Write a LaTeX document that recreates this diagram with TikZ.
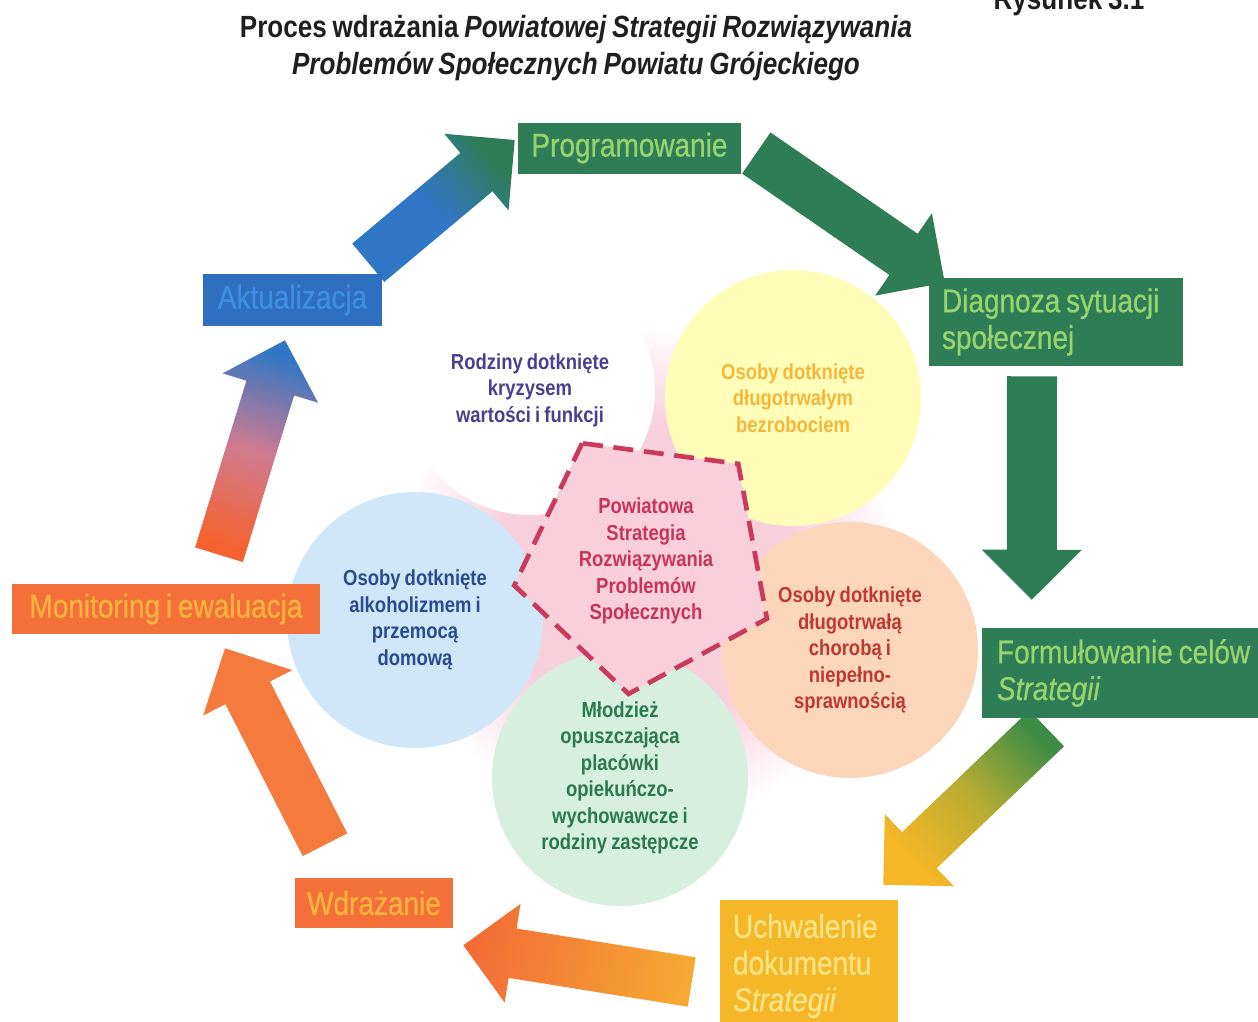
\documentclass[tikz,border=0pt]{standalone}
\usepackage{fontspec}
\setmainfont[FakeStretch=0.85,WordSpace=0.8]{Liberation Sans}
\newfontfamily\stagefont[FakeStretch=0.85,WordSpace=0.75,FakeBold=0.6]{Liberation Sans}
\usetikzlibrary{calc,shapes.geometric,backgrounds}

\definecolor{titlegray}{HTML}{1F1F1F}
\definecolor{stagegreen}{HTML}{2E7D57}
\definecolor{stagegreentext}{HTML}{98D46E}
\definecolor{stageblue}{HTML}{2E6FBF}
\definecolor{stagebluetext}{HTML}{3C90E4}
\definecolor{stageorange}{HTML}{F4703A}
\definecolor{stageorangetext}{HTML}{F8B43C}
\definecolor{stageyellow}{HTML}{F5B727}
\definecolor{stageyellowtext}{HTML}{FDE585}
\definecolor{arrowblue}{HTML}{3077C6}
\definecolor{arrowgreen}{HTML}{3F8C46}
\definecolor{arrowolive}{HTML}{B8AC32}
\definecolor{arroworange}{HTML}{F47A3D}
\definecolor{arrowred}{HTML}{F5622F}
\definecolor{arrowmauve}{HTML}{D07A90}
\definecolor{arrowamber}{HTML}{F5A832}
\definecolor{arrowtomato}{HTML}{F26C36}
\definecolor{fillyellow}{HTML}{FFFDB8}
\definecolor{fillpeach}{HTML}{FCD6BA}
\definecolor{fillgreen}{HTML}{D6EFDF}
\definecolor{fillblue}{HTML}{CFE7F8}
\definecolor{pinkbg}{HTML}{F8D0DC}
\definecolor{pentfill}{HTML}{F9CFDC}
\definecolor{pentline}{HTML}{C93A5D}
\definecolor{textpurple}{HTML}{4B4090}
\definecolor{textyellow}{HTML}{F6B63A}
\definecolor{textblue}{HTML}{2A4B8D}
\definecolor{textred}{HTML}{BC3A31}
\definecolor{textgreen}{HTML}{2B7A4D}
\definecolor{textcrimson}{HTML}{C8345A}

\pgfdeclareradialshading{pinkglow}{\pgfpoint{0bp}{0bp}}{color(0bp)=(pinkbg); color(15bp)=(pinkbg); color(25bp)=(white); color(50bp)=(white)}

\newcommand\blockarrow[3][]{%
  \coordinate (#2-#3) at ($(#3)!37.5pt!(#2)$);
  \path[#1] ($(#2)!18.75pt!90:(#3)$) -- ($(#2-#3)!18.75pt!90:(#3)$) -- ($(#2-#3)!37.5pt!90:(#3)$) -- (#3)
    -- ($(#2-#3)!37.5pt!-90:(#3)$) -- ($(#2-#3)!18.75pt!-90:(#3)$) -- ($(#2)!18.75pt!-90:(#3)$) -- cycle;}

\begin{document}
\begin{tikzpicture}[x=0.75pt,y=-0.75pt,
  stage/.style={rectangle,inner sep=0pt,font=\stagefont\fontsize{24.7}{27.5}\selectfont},
  group/.style={circle,inner sep=0pt,minimum size=192pt,align=center,font=\bfseries\fontsize{16.3}{19.9}\selectfont}]
\useasboundingbox (0,0) rectangle (1258,1022);

\node[font=\bfseries\fontsize{23}{27.75}\selectfont,text=titlegray,align=center] (title) at (576,48)
  {Proces wdrażania \textit{Powiatowej Strategii Rozwiązywania}\\\textit{Problemów Społecznych Powiatu Grójeckiego}};
\node[font=\bfseries\fontsize{23}{27.75}\selectfont,text=titlegray,anchor=base] (fig) at (1069,9) {Rysunek 3.1};

\shade[shading=pinkglow] (646,575) circle (187.5pt);

\node[group,minimum size=187.5pt,fill=white,text=textpurple] (rodziny) at (530,390) {Rodziny dotknięte\\kryzysem\\wartości i funkcji};
\node[group,fill=fillyellow,text=textyellow] (bezrobocie) at (793,398) {Osoby dotknięte\\długotrwałym\\bezrobociem};
\node[group,fill=fillpeach,text=textred] (choroba) at (850,650) {Osoby dotknięte\\długotrwałą\\chorobą i\\niepełno-\\sprawnością};
\node[group,fill=fillblue,text=textblue] (alkohol) at (415,620) {Osoby dotknięte\\alkoholizmem i\\przemocą\\domową};
\node[group,fill=fillgreen,text=textgreen] (mlodziez) at (620,778) {Młodzież\\opuszczająca\\placówki\\opiekuńczo-\\wychowawcze i\\rodziny zastępcze};

\node[regular polygon,regular polygon sides=5,shape border rotate=28.5,minimum size=201pt,inner sep=0pt,
  fill=pentfill,draw=pentline,line width=3.5pt,dash pattern=on 15pt off 8pt,align=center,text=textcrimson,
  font=\bfseries\fontsize{16.3}{19.9}\selectfont] (strategia) at (646,561)
  {Powiatowa\\Strategia\\Rozwiązywania\\Problemów\\Społecznych};

\node[stage,fill=stagegreen,text=stagegreentext,minimum width=167.25pt,minimum height=38.25pt] (prog) at (629.5,148) {Programowanie};
\node[stage,fill=stagegreen,text=stagegreentext,text width=171pt,inner xsep=9.75pt,align=flush left,minimum height=66pt] (diag) at (1056,322) {Diagnoza sytuacji\\społecznej};
\node[stage,fill=stagegreen,text=stagegreentext,text width=197.25pt,inner xsep=11.25pt,align=flush left,minimum height=67.5pt] (form) at (1128.5,673) {Formułowanie celów\\\textit{Strategii}};
\node[stage,fill=stageyellow,text=stageyellowtext,text width=114pt,inner xsep=9.75pt,align=flush left,minimum height=99pt] (uchw) at (809,966) {Uchwalenie\\dokumentu\\\textit{Strategii}};
\node[stage,fill=stageorange,text=stageorangetext,minimum width=118.5pt,minimum height=37.5pt] (wdr) at (374,903) {Wdrażanie};
\node[stage,fill=stageorange,text=stageorangetext,minimum width=231pt,minimum height=37.5pt] (mon) at (166,609) {Monitoring i ewaluacja};
\node[stage,fill=stageblue,text=stagebluetext,minimum width=134.25pt,minimum height=39pt] (akt) at (292.5,300) {Aktualizacja};

\coordinate (aktout) at ($(akt.north east)+(-14,-11)$);
\coordinate (progin) at ($(prog.west)+(-3,-8)$);
\coordinate (progout) at ($(prog.east)+(15,5)$);
\coordinate (diagin) at ($(diag.north west)+(16,5)$);
\coordinate (diagout) at ($(diag.south)+(-24,10)$);
\coordinate (formin) at ($(form.north west)+(50,-28)$);
\coordinate (formout) at ($(form.south west)+(65,10)$);
\coordinate (uchwin) at ($(uchw.north east)+(-15,-15)$);
\coordinate (uchwout) at ($(uchw.west)+(-28,16)$);
\coordinate (wdrin) at ($(wdr.south east)+(10,17)$);
\coordinate (wdrout) at ($(wdr.north)+(-49,-33)$);
\coordinate (monin) at ($(mon.south)+(59,14)$);
\coordinate (monout) at ($(mon.north)+(53,-29)$);
\coordinate (aktin) at ($(akt.south)+(-7.5,14)$);

\begin{scope}[on background layer]
\blockarrow[bottom color=arrowblue,top color=stagegreen,middle color=arrowblue,shading angle=-50.3]{aktout}{progin}
\blockarrow[fill=stagegreen]{progout}{diagin}
\blockarrow[fill=stagegreen]{diagout}{formin}
\blockarrow[bottom color=arrowgreen,top color=stageyellow,middle color=arrowolive,shading angle=133.7]{formout}{uchwin}
\blockarrow[bottom color=arrowamber,top color=arrowtomato,shading angle=80.8]{uchwout}{wdrin}
\blockarrow[fill=arroworange]{wdrout}{monin}
\blockarrow[bottom color=arrowred,top color=arrowblue,middle color=arrowmauve,shading angle=-17]{monout}{aktin}
\end{scope}
\end{tikzpicture}
\end{document}
